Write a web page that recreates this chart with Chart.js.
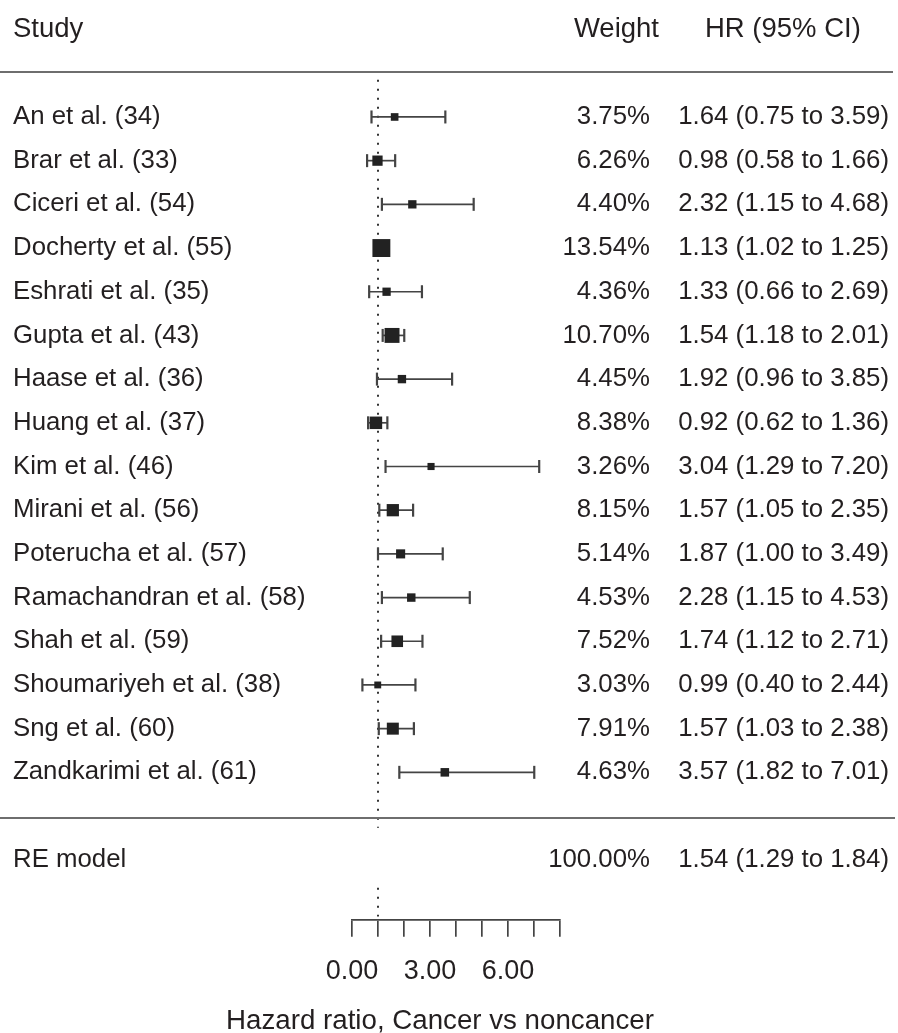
<!DOCTYPE html>
<html>
<head>
<meta charset="utf-8">
<script src="https://cdn.jsdelivr.net/npm/chart.js@4"></script>
<style>
  html, body { margin: 0; padding: 0; background: #fff; }
  canvas { display: block; }
</style>
</head>
<body>
<canvas id="forest" width="898" height="1033"></canvas>
<script>
const studies = [
  "An et al. (34)", "Brar et al. (33)", "Ciceri et al. (54)", "Docherty et al. (55)",
  "Eshrati et al. (35)", "Gupta et al. (43)", "Haase et al. (36)", "Huang et al. (37)",
  "Kim et al. (46)", "Mirani et al. (56)", "Poterucha et al. (57)", "Ramachandran et al. (58)",
  "Shah et al. (59)", "Shoumariyeh et al. (38)", "Sng et al. (60)", "Zandkarimi et al. (61)"
];
const weights = [3.75, 6.26, 4.40, 13.54, 4.36, 10.70, 4.45, 8.38, 3.26, 8.15, 5.14, 4.53, 7.52, 3.03, 7.91, 4.63];
const hr = [1.64, 0.98, 2.32, 1.13, 1.33, 1.54, 1.92, 0.92, 3.04, 1.57, 1.87, 2.28, 1.74, 0.99, 1.57, 3.57];
const lower = [0.75, 0.58, 1.15, 1.02, 0.66, 1.18, 0.96, 0.62, 1.29, 1.05, 1.00, 1.15, 1.12, 0.40, 1.03, 1.82];
const upper = [3.59, 1.66, 4.68, 1.25, 2.69, 2.01, 3.85, 1.36, 7.20, 2.35, 3.49, 4.53, 2.71, 2.44, 2.38, 7.01];

const pooled = { label: "RE model", weight: 100.00, hr: 1.54, lower: 1.29, upper: 1.84 };
const nullEffect = 1;

const tickValues = [0, 3, 6];
const tickLabels = ["0.00", "3.00", "6.00"];
const axisTitle = "Hazard ratio, Cancer vs noncancer";

const FONT = "'Liberation Sans', Arial, sans-serif";
const INK = "#231f20";
const LINE = "#444";

Chart.defaults.font.family = FONT;

const fmt = (v) => v.toFixed(2);

// one dataset per confidence interval, caps drawn as rotated line points
const ciSets = studies.map((s, i) => ({
  type: "line",
  data: [{ x: lower[i], y: i }, { x: upper[i], y: i }],
  borderColor: LINE,
  borderWidth: 1.7,
  pointStyle: "line",
  pointRotation: 90,
  pointRadius: 6.5,
  pointBorderWidth: 2.2,
  pointBorderColor: LINE,
  pointBackgroundColor: LINE,
  clip: false,
  order: 1,
}));

const rowsPlugin = {
  id: "rows",
  afterDraw(chart) {
    const { ctx, scales: { y } } = chart;
    ctx.save();
    ctx.fillStyle = INK;
    ctx.textBaseline = "middle";

    // header
    const hy = y.getPixelForValue(-2);
    ctx.font = "27.5px " + FONT;
    ctx.textAlign = "left";
    ctx.fillText("Study", 13, hy);
    ctx.fillText("HR (95% CI)", 705, hy);
    ctx.textAlign = "right";
    ctx.fillText("Weight", 659, hy);

    ctx.font = "25.8px " + FONT;
    studies.forEach((s, i) => {
      const py = y.getPixelForValue(i);
      ctx.textAlign = "left";
      ctx.fillText(s, 13, py);
      ctx.textAlign = "right";
      ctx.fillText(fmt(weights[i]) + "%", 650, py);
      ctx.fillText(`${fmt(hr[i])} (${fmt(lower[i])} to ${fmt(upper[i])})`, 889, py);
    });

    const ry = y.getPixelForValue(studies.length + 1);
    ctx.textAlign = "left";
    ctx.fillText(pooled.label, 13, ry);
    ctx.textAlign = "right";
    ctx.fillText(fmt(pooled.weight) + "%", 650, ry);
    ctx.fillText(`${fmt(pooled.hr)} (${fmt(pooled.lower)} to ${fmt(pooled.upper)})`, 889, ry);

    // axis title, centred a little left of the axis as in the source figure
    ctx.font = "27.7px " + FONT;
    ctx.textAlign = "center";
    ctx.fillText(axisTitle, 440, 1021);

    // separators
    ctx.strokeStyle = "#6e6e6e";
    ctx.lineWidth = 2;
    ctx.beginPath();
    const l1 = Math.round(y.getPixelForValue(-1.03));
    ctx.moveTo(0, l1);
    ctx.lineTo(893, l1);
    const l2 = Math.round(y.getPixelForValue(studies.length + 0.04));
    ctx.moveTo(0, l2);
    ctx.lineTo(895, l2);
    ctx.stroke();
    ctx.restore();
  },
};

const chart = new Chart(document.getElementById("forest"), {
  type: "scatter",
  data: {
    datasets: [
      {
        type: "scatter",
        data: hr.map((v, i) => ({ x: v, y: i })),
        pointStyle: "rect",
        pointRadius: weights.map((w) => (3.7 + 1.05 * w) / Math.SQRT2),
        backgroundColor: "#222",
        borderWidth: 0,
        clip: false,
        order: 0,
      },
      ...ciSets,
      {
        type: "line",
        data: [{ x: nullEffect, y: -0.85 }, { x: nullEffect, y: 16.27 }],
        borderColor: "#333",
        borderWidth: 2,
        borderDash: [2, 7],
        pointRadius: 0,
        clip: false,
        order: 2,
      },
      {
        type: "line",
        data: [{ x: nullEffect, y: 17.64 }, { x: nullEffect, y: 18.3 }],
        borderColor: "#333",
        borderWidth: 2,
        borderDash: [2, 7],
        pointRadius: 0,
        clip: false,
        order: 2,
      },
    ],
  },
  options: {
    responsive: false,
    animation: false,
    devicePixelRatio: 1,
    layout: { autoPadding: false, padding: { left: 352, right: 338, top: 0, bottom: 25.8 } },
    plugins: { legend: { display: false }, tooltip: { enabled: false } },
    scales: {
      y: {
        type: "linear",
        display: false,
        reverse: true,
        min: -2.677,
        max: 18.375,
      },
      x: {
        type: "linear",
        position: "bottom",
        min: 0,
        max: 8,
        ticks: {
          stepSize: 1,
          autoSkip: false,
          maxRotation: 0,
          padding: 19,
          color: INK,
          font: { size: 27 },
          callback: (v) => {
            const k = tickValues.indexOf(v);
            return k >= 0 ? tickLabels[k] : "";
          },
        },
        grid: { drawOnChartArea: false, tickLength: 17, color: LINE, lineWidth: 1.7 },
        border: { color: LINE, width: 1.7 },
        title: { display: false },
      },
    },
  },
  plugins: [rowsPlugin],
});
</script>
</body>
</html>
